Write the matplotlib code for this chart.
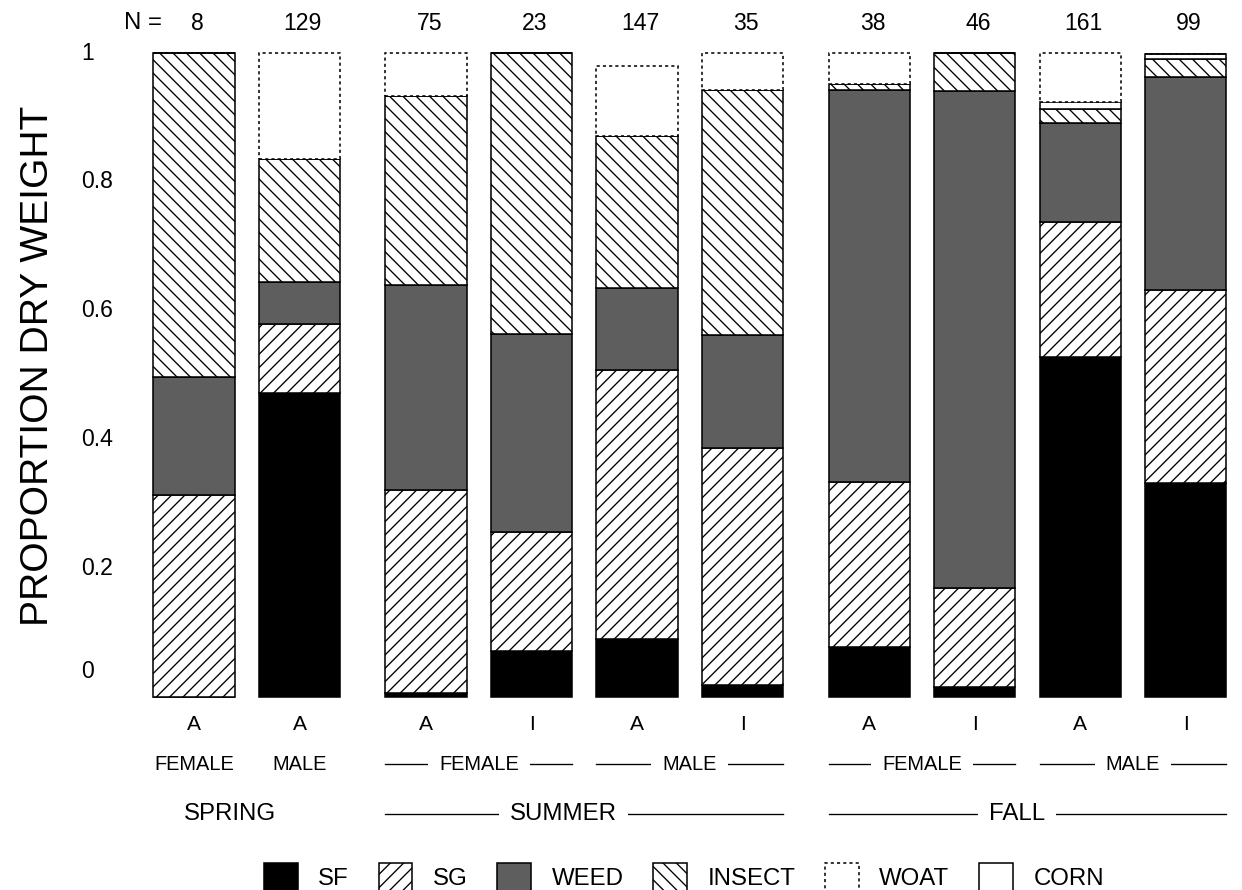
import matplotlib
matplotlib.use("Agg")
import matplotlib.pyplot as plt

DPI = 160
W_PX, H_PX = 1242, 890


def pt(px):
    # font sizes in pixels
    return px * 72 / DPI


plt.rcParams["font.family"] = ["Liberation Sans", "DejaVu Sans"]
plt.rcParams["hatch.linewidth"] = 0.6

# ---- data -------------------------------------------------------------
ages = ["A", "A", "A", "I", "A", "I", "A", "I", "A", "I"]
sample_sizes = [8, 129, 75, 23, 147, 35, 38, 46, 161, 99]
positions = [0, 1, 2.2, 3.2, 4.2, 5.2, 6.4, 7.4, 8.4, 9.4]

sf = [0.000, 0.472, 0.006, 0.071, 0.090, 0.019, 0.078, 0.016, 0.528, 0.332]
sg = [0.314, 0.107, 0.315, 0.185, 0.418, 0.368, 0.256, 0.153, 0.210, 0.300]
weed = [0.183, 0.065, 0.319, 0.308, 0.127, 0.175, 0.609, 0.772, 0.153, 0.331]
insect = [0.503, 0.191, 0.293, 0.436, 0.236, 0.381, 0.009, 0.059, 0.022, 0.028]
corn = [0.000, 0.000, 0.000, 0.000, 0.000, 0.000, 0.000, 0.000, 0.011, 0.007]
woat = [0.000, 0.165, 0.067, 0.000, 0.109, 0.057, 0.048, 0.000, 0.076, 0.000]

sex_groups = [("FEMALE", 0, 0), ("MALE", 1, 1), ("FEMALE", 2, 3),
              ("MALE", 4, 5), ("FEMALE", 6, 7), ("MALE", 8, 9)]
seasons = [("SPRING", 0, 1), ("SUMMER", 2, 5), ("FALL", 6, 9)]

y_ticks = [0, 0.2, 0.4, 0.6, 0.8, 1.0]
y_tick_labels = ["0", "0.2", "0.4", "0.6", "0.8", "1"]

# ---- layout -----------------------------------------------------------
BAR_W = 0.77
UNIT_PX = 105.5
X0_PX = 194
XLIM = (-0.65, 9.95)
AX_LEFT = X0_PX + XLIM[0] * UNIT_PX
AX_W = (XLIM[1] - XLIM[0]) * UNIT_PX
AX_BOTTOM, AX_TOP = 697, 53
# labels in the original sit a little left of their group centre
SEASON_NUDGE = {"SPRING": -0.16, "SUMMER": -0.2, "FALL": -0.1}
SEASON_LINED = {"SPRING": False, "SUMMER": True, "FALL": True}


def ay(py):
    # pixel row -> axes fraction
    return (AX_BOTTOM - py) / (AX_BOTTOM - AX_TOP)


fig = plt.figure(figsize=(W_PX / DPI, H_PX / DPI), dpi=DPI)
ax = fig.add_axes([AX_LEFT / W_PX, 1 - AX_BOTTOM / H_PX,
                   AX_W / W_PX, (AX_BOTTOM - AX_TOP) / H_PX])
ax.set_xlim(*XLIM)
ax.set_ylim(0, 1)
ax.set_xticks([])
ax.set_yticks([])
for spine in ["right", "left", "bottom", "top"]:
    ax.spines[spine].set_visible(False)

components = [
    ("SF", sf, dict(facecolor="black", hatch=None, linestyle="-")),
    ("SG", sg, dict(facecolor="white", hatch="////", linestyle="-")),
    ("WEED", weed, dict(facecolor="#5e5e5e", hatch=None, linestyle="-")),
    ("INSECT", insect, dict(facecolor="white", hatch="\\\\\\\\",
                            linestyle="-")),
    ("CORN", corn, dict(facecolor="white", hatch=None, linestyle="-")),
    ("WOAT", woat, dict(facecolor="white", hatch=None,
                        linestyle=(0, (2, 2)))),
]

handles = {}
bottom = [0.0] * len(positions)
for name, values, style in components:
    bars = ax.bar(positions, values, width=BAR_W, bottom=bottom,
                  edgecolor="black", linewidth=0.7, clip_on=False, **style)
    handles[name] = bars
    bottom = [b + v for b, v in zip(bottom, values)]

# y tick labels
ytrans = ax.get_yaxis_transform()
tick_x = (81 - AX_LEFT) / AX_W
for v, lab in zip(y_ticks, y_tick_labels):
    ax.text(tick_x, v if v > 0 else 0.04, lab, transform=ytrans,
            ha="left", va="center", fontsize=pt(23))

fig.text(38 / W_PX, 1 - 366 / H_PX, "PROPORTION DRY WEIGHT", rotation=90,
         ha="center", va="center", fontsize=pt(39))

xtrans = ax.get_xaxis_transform()
# sample sizes
ax.text(-0.48, ay(23), "N =", transform=xtrans, ha="center", va="center",
        fontsize=pt(24))
for x, n in zip(positions, sample_sizes):
    ax.text(x + 0.03, ay(23), str(n), transform=xtrans, ha="center",
            va="center", fontsize=pt(23))

# age class
for x, a in zip(positions, ages):
    ax.text(x, ay(725), a, transform=xtrans, ha="center", va="center",
            fontsize=pt(21))


def group_label(label, first, last, row, size, lined, nudge=0.0):
    x_left = positions[first] - BAR_W / 2
    x_right = positions[last] + BAR_W / 2
    xc = (positions[first] + positions[last]) / 2 + nudge
    if lined:
        ax.plot([x_left, x_right], [row, row], transform=xtrans,
                color="black", linewidth=0.6, clip_on=False, zorder=1)
    ax.text(xc, row, label, transform=xtrans, ha="center", va="center",
            fontsize=size, zorder=2,
            bbox=dict(facecolor="white", edgecolor="none", pad=5))


for label, first, last in sex_groups:
    group_label(label, first, last, ay(764), pt(20), first != last)

for label, first, last in seasons:
    group_label(label, first, last, ay(814), pt(24), SEASON_LINED[label],
                SEASON_NUDGE[label])

legend_order = ["SF", "SG", "WEED", "INSECT", "WOAT", "CORN"]
fig.legend([handles[k] for k in legend_order], legend_order,
           loc="center", bbox_to_anchor=(684 / W_PX, 1 - 877 / H_PX),
           ncol=6, frameon=False, fontsize=pt(24), handlelength=1.4,
           handleheight=1.4, handletextpad=0.85, columnspacing=1.25,
           borderpad=0, borderaxespad=0)

fig.savefig("out.png", dpi=DPI)
